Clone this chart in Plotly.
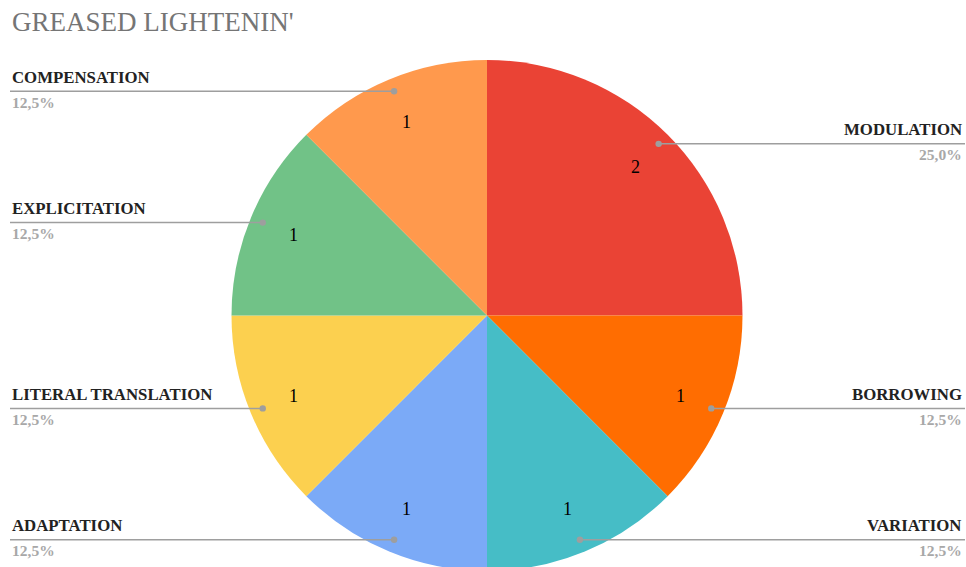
import math
import plotly.graph_objects as go

# Translation techniques and their counts
labels = ["MODULATION", "BORROWING", "VARIATION", "ADAPTATION",
          "LITERAL TRANSLATION", "EXPLICITATION", "COMPENSATION"]
values = [2, 1, 1, 1, 1, 1, 1]
colors = ["#EA4335", "#FF6D01", "#46BDC6", "#7BAAF7",
          "#FCD04F", "#71C287", "#FF994D"]
title_text = "GREASED LIGHTENIN'"

# Canvas and pie geometry (pixels, y measured from the top).
# The figure is a few pixels taller than the view so the pie bottom runs off the edge.
W, H = 966, 571
PIE_TOP = 60
CX = 487
R = (H - PIE_TOP) / 2
CY = PIE_TOP + R
SERIF = "Liberation Serif"


def px(x):
    return x / W


def py(y):
    return 1 - y / H


fig = go.Figure(go.Pie(
    labels=labels,
    values=values,
    marker=dict(colors=colors, line=dict(width=0)),
    sort=False,
    direction="clockwise",
    rotation=0,
    textinfo="none",
    hoverinfo="label+value+percent",
    showlegend=False,
    domain=dict(x=[px(CX - R), px(CX + R)], y=[0, py(PIE_TOP)]),
))

shapes, annotations = [], []
total = sum(values)
cum = 0
for name, v in zip(labels, values):
    mid = math.radians((cum + v / 2) / total * 360)
    cum += v
    dx, dy = math.sin(mid), -math.cos(mid)

    # value inside the slice
    tx, ty = CX + 0.82 * R * dx, CY + 0.82 * R * dy
    annotations.append(dict(x=px(tx), y=py(ty), xref="paper", yref="paper",
                            xanchor="center", yanchor="middle",
                            text=str(v), showarrow=False,
                            font=dict(family=SERIF, size=18, color="#000000")))

    # leader line with dot
    lx, ly = CX + 0.95 * R * dx, CY + 0.95 * R * dy
    left = dx < 0
    ex = 10 if left else 965
    shapes.append(dict(type="line", xref="paper", yref="paper",
                       x0=px(lx), y0=py(ly), x1=px(ex), y1=py(ly),
                       line=dict(color="#9E9E9E", width=1.5), layer="above"))
    dr = 3.2
    shapes.append(dict(type="circle", xref="paper", yref="paper",
                       x0=px(lx - dr), x1=px(lx + dr), y0=py(ly + dr), y1=py(ly - dr),
                       fillcolor="#9E9E9E", line=dict(width=0), layer="above"))

    pct = f"{v / total * 100:.1f}%".replace(".", ",")
    anchor = "left" if left else "right"
    ax = 10 if left else 964
    annotations.append(dict(x=px(ax), y=py(ly - 14), xref="paper", yref="paper",
                            xanchor=anchor, yanchor="middle", showarrow=False,
                            text=f"<b>{name}</b>",
                            font=dict(family=SERIF, size=16.8, color="#222222")))
    annotations.append(dict(x=px(ax), y=py(ly + 11), xref="paper", yref="paper",
                            xanchor=anchor, yanchor="middle", showarrow=False,
                            text=f"<b>{pct}</b>",
                            font=dict(family=SERIF, size=15.5, color="#A8A8A8")))

annotations.append(dict(x=px(10), y=py(22), xref="paper", yref="paper",
                        xanchor="left", yanchor="middle", showarrow=False,
                        text=title_text,
                        font=dict(family=SERIF, size=27, color="#757575")))

fig.update_layout(
    width=W, height=H,
    margin=dict(l=0, r=0, t=0, b=0),
    paper_bgcolor="#FFFFFF",
    plot_bgcolor="#FFFFFF",
    shapes=shapes,
    annotations=annotations,
)

fig.write_html(
    "out.html",
    post_script="document.documentElement.style.overflow='hidden';"
                "document.body.style.overflow='hidden';document.body.style.margin='0';",
)
